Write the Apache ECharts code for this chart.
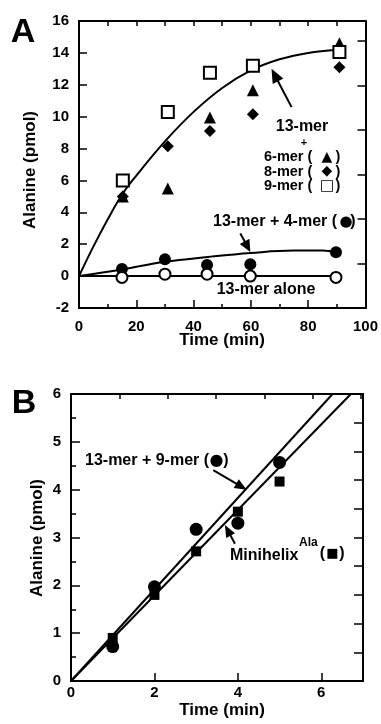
<!DOCTYPE html>
<html>
<head>
<meta charset="utf-8">
<script src="https://cdn.jsdelivr.net/npm/echarts@6/dist/echarts.min.js"></script>
<style>
  html, body { margin: 0; padding: 0; background: #fff; }
  #chart { width: 381px; height: 724px; }
</style>
</head>
<body>
<div id="chart"></div>
<script>
// Panel A: alanine (pmol) vs time (min)
const timeOligo = [15.3, 31, 45.7, 60.7, 90.9];
const timeCircle = [15, 30, 44.7, 59.8, 89.7];
const sixMer = [5.0, 5.5, 9.95, 11.65, 14.6];
const eightMer = [5.0, 8.15, 9.1, 10.15, 13.1];
const nineMer = [6.0, 10.3, 12.75, 13.2, 14.05];
const fourMer = [0.45, 1.05, 0.7, 0.75, 1.5];
const aloneA = [-0.08, 0.12, 0.12, 0.0, -0.08];

// fitted curves
const fitOligoTime = [0, 5, 10, 15, 20, 30, 40, 50, 60, 70, 80, 90];
const fitOligo = [0, 1.85, 3.55, 5.1, 6.3, 8.45, 10.3, 11.8, 12.9, 13.6, 14.0, 14.2];
const fitFourTime = [0, 15, 30, 45, 60, 75, 85, 90];
const fitFour = [0, 0.42, 0.9, 1.2, 1.45, 1.6, 1.6, 1.45];
const fitAloneTime = [0, 90];
const fitAlone = [0, 0];

// Panel B
const timeB = [1, 2, 3, 4, 5];
const nineMerB = [0.72, 1.97, 3.17, 3.3, 4.57];
const miniB = [0.9, 1.8, 2.71, 3.54, 4.17];
const fitNineB = [[0, 0], [6.27, 6]];
const fitMiniB = [[0, 0], [6.71, 6]];

// annotation arrows [from, to] in data units
const arrowA1 = [[74.2, 10.6], [67.2, 13.0]];
const arrowA2 = [[56.3, 2.68], [59.8, 1.52]];
const arrowB1 = [[3.41, 4.41], [4.21, 4.0]];
const arrowB2 = [[3.93, 2.87], [3.69, 3.26]];

const FONT = '"Liberation Sans", Arial, "DejaVu Sans", sans-serif';
const GLYPH_FONT = '"DejaVu Sans", sans-serif';
const BLACK = '#000';

const zip = (xs, ys) => xs.map((x, i) => [x, ys[i]]);

const frameLine = { show: true, onZero: false, lineStyle: { color: BLACK, width: 2 } };
const tickLabel = { color: BLACK, fontFamily: FONT, fontWeight: 'bold', fontSize: 15 };
const tickStyle = { color: BLACK, width: 1.5 };

function plainAxis(extra) {
  return Object.assign({
    type: 'value',
    axisLine: frameLine,
    splitLine: { show: false },
    axisLabel: { show: false },
  }, extra);
}

function scatter(name, data, symbol, size, filled, xi, yi) {
  return {
    name, type: 'scatter', data, symbol, symbolSize: size,
    xAxisIndex: xi, yAxisIndex: yi, z: 5,
    itemStyle: filled
      ? { color: BLACK, opacity: 1 }
      : { color: '#fff', borderColor: BLACK, borderWidth: 2, opacity: 1 },
  };
}

function fitLine(data, smooth, xi, yi) {
  return {
    type: 'line', data, smooth, showSymbol: false, symbol: 'none',
    xAxisIndex: xi, yAxisIndex: yi, z: 3, clip: true,
    lineStyle: { color: BLACK, width: 2 },
  };
}

function txt(x, y, text, size, align, rotation, family) {
  return {
    type: 'text', x, y, rotation: rotation || 0,
    style: {
      text, fill: BLACK, font: 'bold ' + size + 'px ' + (family || FONT),
      align: align || 'center', verticalAlign: 'middle',
    },
  };
}

// "label ( glyph )" where the glyph is drawn a bit larger than the text
function keyRow(x, y, label, size, glyph, gx, gsize, px) {
  return [
    txt(x, y, label + ' (', size, 'left'),
    txt(gx, y, glyph, gsize, 'center', 0, GLYPH_FONT),
    txt(px, y, ')', size),
  ];
}

const labels = [
  txt(23, 33, 'A', 34),
  txt(24, 404, 'B', 34),
  txt(30, 170, 'Alanine (pmol)', 17, 'center', Math.PI / 2),
  txt(222, 340, 'Time (min)', 17),
  txt(37, 538, 'Alanine (pmol)', 17, 'center', Math.PI / 2),
  txt(222, 710, 'Time (min)', 17),
  // panel A labels
  txt(302, 127, '13-mer', 16),
  txt(304, 143, '+', 11),
  ...keyRow(264, 157, '6-mer', 14.5, '\u25B2', 327, 14, 338),
  ...keyRow(264, 171.5, '8-mer', 14.5, '\u25C6', 327, 14, 338),
  ...keyRow(264, 186, '9-mer', 14.5, '\u25A1', 327, 15, 338),
  ...keyRow(213, 222, '13-mer + 4-mer', 16, '\u25CF', 346, 15, 353),
  txt(266, 290, '13-mer alone', 16),
  // panel B labels
  ...keyRow(85, 461, '13-mer + 9-mer', 16, '\u25CF', 216.5, 16, 226),
  txt(230, 556, 'Minihelix', 16, 'left'),
  txt(299, 543, 'Ala', 12, 'left'),
  txt(322.5, 554, '(', 16),
  txt(332.5, 554, '\u25A0', 13, 'center', 0, GLYPH_FONT),
  txt(342, 554, ')', 16),
];

const chart = echarts.init(document.getElementById('chart'), null, { renderer: 'canvas' });

chart.setOption({
  animation: false,
  backgroundColor: '#fff',
  grid: [
    { left: 79, top: 21, width: 289, height: 287 },
    { left: 71, top: 394, width: 292, height: 287 },
  ],
  xAxis: [
    plainAxis({
      gridIndex: 0, position: 'bottom', min: 0, max: 100, interval: 20,
      axisTick: { inside: true, length: 8, lineStyle: tickStyle },
      minorTick: { show: true, splitNumber: 2, length: 4, lineStyle: tickStyle },
      minorSplitLine: { show: false },
      axisLabel: Object.assign({ show: true, margin: 11 }, tickLabel),
    }),
    plainAxis({
      gridIndex: 0, position: 'top', min: 0, max: 100, interval: 10,
      axisTick: { inside: true, length: 5, lineStyle: tickStyle },
    }),
    plainAxis({
      gridIndex: 1, position: 'bottom', min: 0, max: 7, interval: 2,
      axisTick: { inside: true, length: 8, lineStyle: tickStyle },
      axisLabel: Object.assign({ show: true, margin: 4, showMaxLabel: false }, tickLabel),
    }),
    plainAxis({
      gridIndex: 1, position: 'top', min: 0, max: 6.04, interval: 1,
      axisTick: { inside: true, length: 5, lineStyle: tickStyle },
    }),
  ],
  yAxis: [
    plainAxis({
      gridIndex: 0, position: 'left', min: -2, max: 16, interval: 2,
      axisTick: { inside: true, length: 8, lineStyle: tickStyle },
      axisLabel: Object.assign({ show: true, margin: 10 }, tickLabel),
    }),
    plainAxis({
      gridIndex: 0, position: 'right', min: 0, max: 6.45, interval: 1,
      axisTick: { inside: true, length: 8, lineStyle: tickStyle },
    }),
    plainAxis({
      gridIndex: 1, position: 'left', min: 0, max: 6, interval: 1,
      axisTick: { inside: true, length: 9, lineStyle: tickStyle },
      minorTick: { show: true, splitNumber: 2, length: 5, lineStyle: tickStyle },
      minorSplitLine: { show: false },
      axisLabel: Object.assign({ show: true, margin: 10 }, tickLabel),
    }),
    plainAxis({
      gridIndex: 1, position: 'right', min: 0, max: 10, interval: 1,
      axisTick: { inside: true, length: 9, lineStyle: tickStyle },
    }),
  ],
  series: [
    // panel A
    fitLine(zip(fitOligoTime, fitOligo), 0.4, 0, 0),
    fitLine(zip(fitFourTime, fitFour), 0.4, 0, 0),
    fitLine(zip(fitAloneTime, fitAlone), false, 0, 0),
    scatter('6-mer', zip(timeOligo, sixMer), 'triangle', 12, true, 0, 0),
    scatter('8-mer', zip(timeOligo, eightMer), 'diamond', 12, true, 0, 0),
    scatter('9-mer', zip(timeOligo, nineMer), 'rect', 12, false, 0, 0),
    scatter('4-mer', zip(timeCircle, fourMer), 'circle', 12, true, 0, 0),
    scatter('13-mer alone', zip(timeCircle, aloneA), 'circle', 11, false, 0, 0),
    // panel B
    fitLine(fitNineB, false, 2, 2),
    fitLine(fitMiniB, false, 2, 2),
    scatter('13-mer + 9-mer', zip(timeB, nineMerB), 'circle', 13, true, 2, 2),
    scatter('Minihelix', zip(timeB, miniB), 'rect', 10, true, 2, 2),
  ],
});

// arrows: convert data coords to pixels, then draw shaft + filled head
function arrowShapes(pair, gridIndex, head, half) {
  const p0 = chart.convertToPixel({ gridIndex }, pair[0]);
  const p1 = chart.convertToPixel({ gridIndex }, pair[1]);
  const dx = p1[0] - p0[0], dy = p1[1] - p0[1];
  const len = Math.sqrt(dx * dx + dy * dy);
  const ux = dx / len, uy = dy / len;
  const bx = p1[0] - ux * head, by = p1[1] - uy * head;
  return [
    {
      type: 'line', z: 20,
      shape: { x1: p0[0], y1: p0[1], x2: bx + ux * 2, y2: by + uy * 2 },
      style: { stroke: BLACK, lineWidth: 2 },
    },
    {
      type: 'polygon', z: 20,
      shape: { points: [p1, [bx - uy * half, by + ux * half], [bx + uy * half, by - ux * half]] },
      style: { fill: BLACK },
    },
  ];
}

chart.setOption({
  graphic: labels.concat(
    arrowShapes(arrowA1, 0, 14, 6),
    arrowShapes(arrowA2, 0, 12, 5.5),
    arrowShapes(arrowB1, 1, 12, 5),
    arrowShapes(arrowB2, 1, 12, 5)
  ),
});
</script>
</body>
</html>
